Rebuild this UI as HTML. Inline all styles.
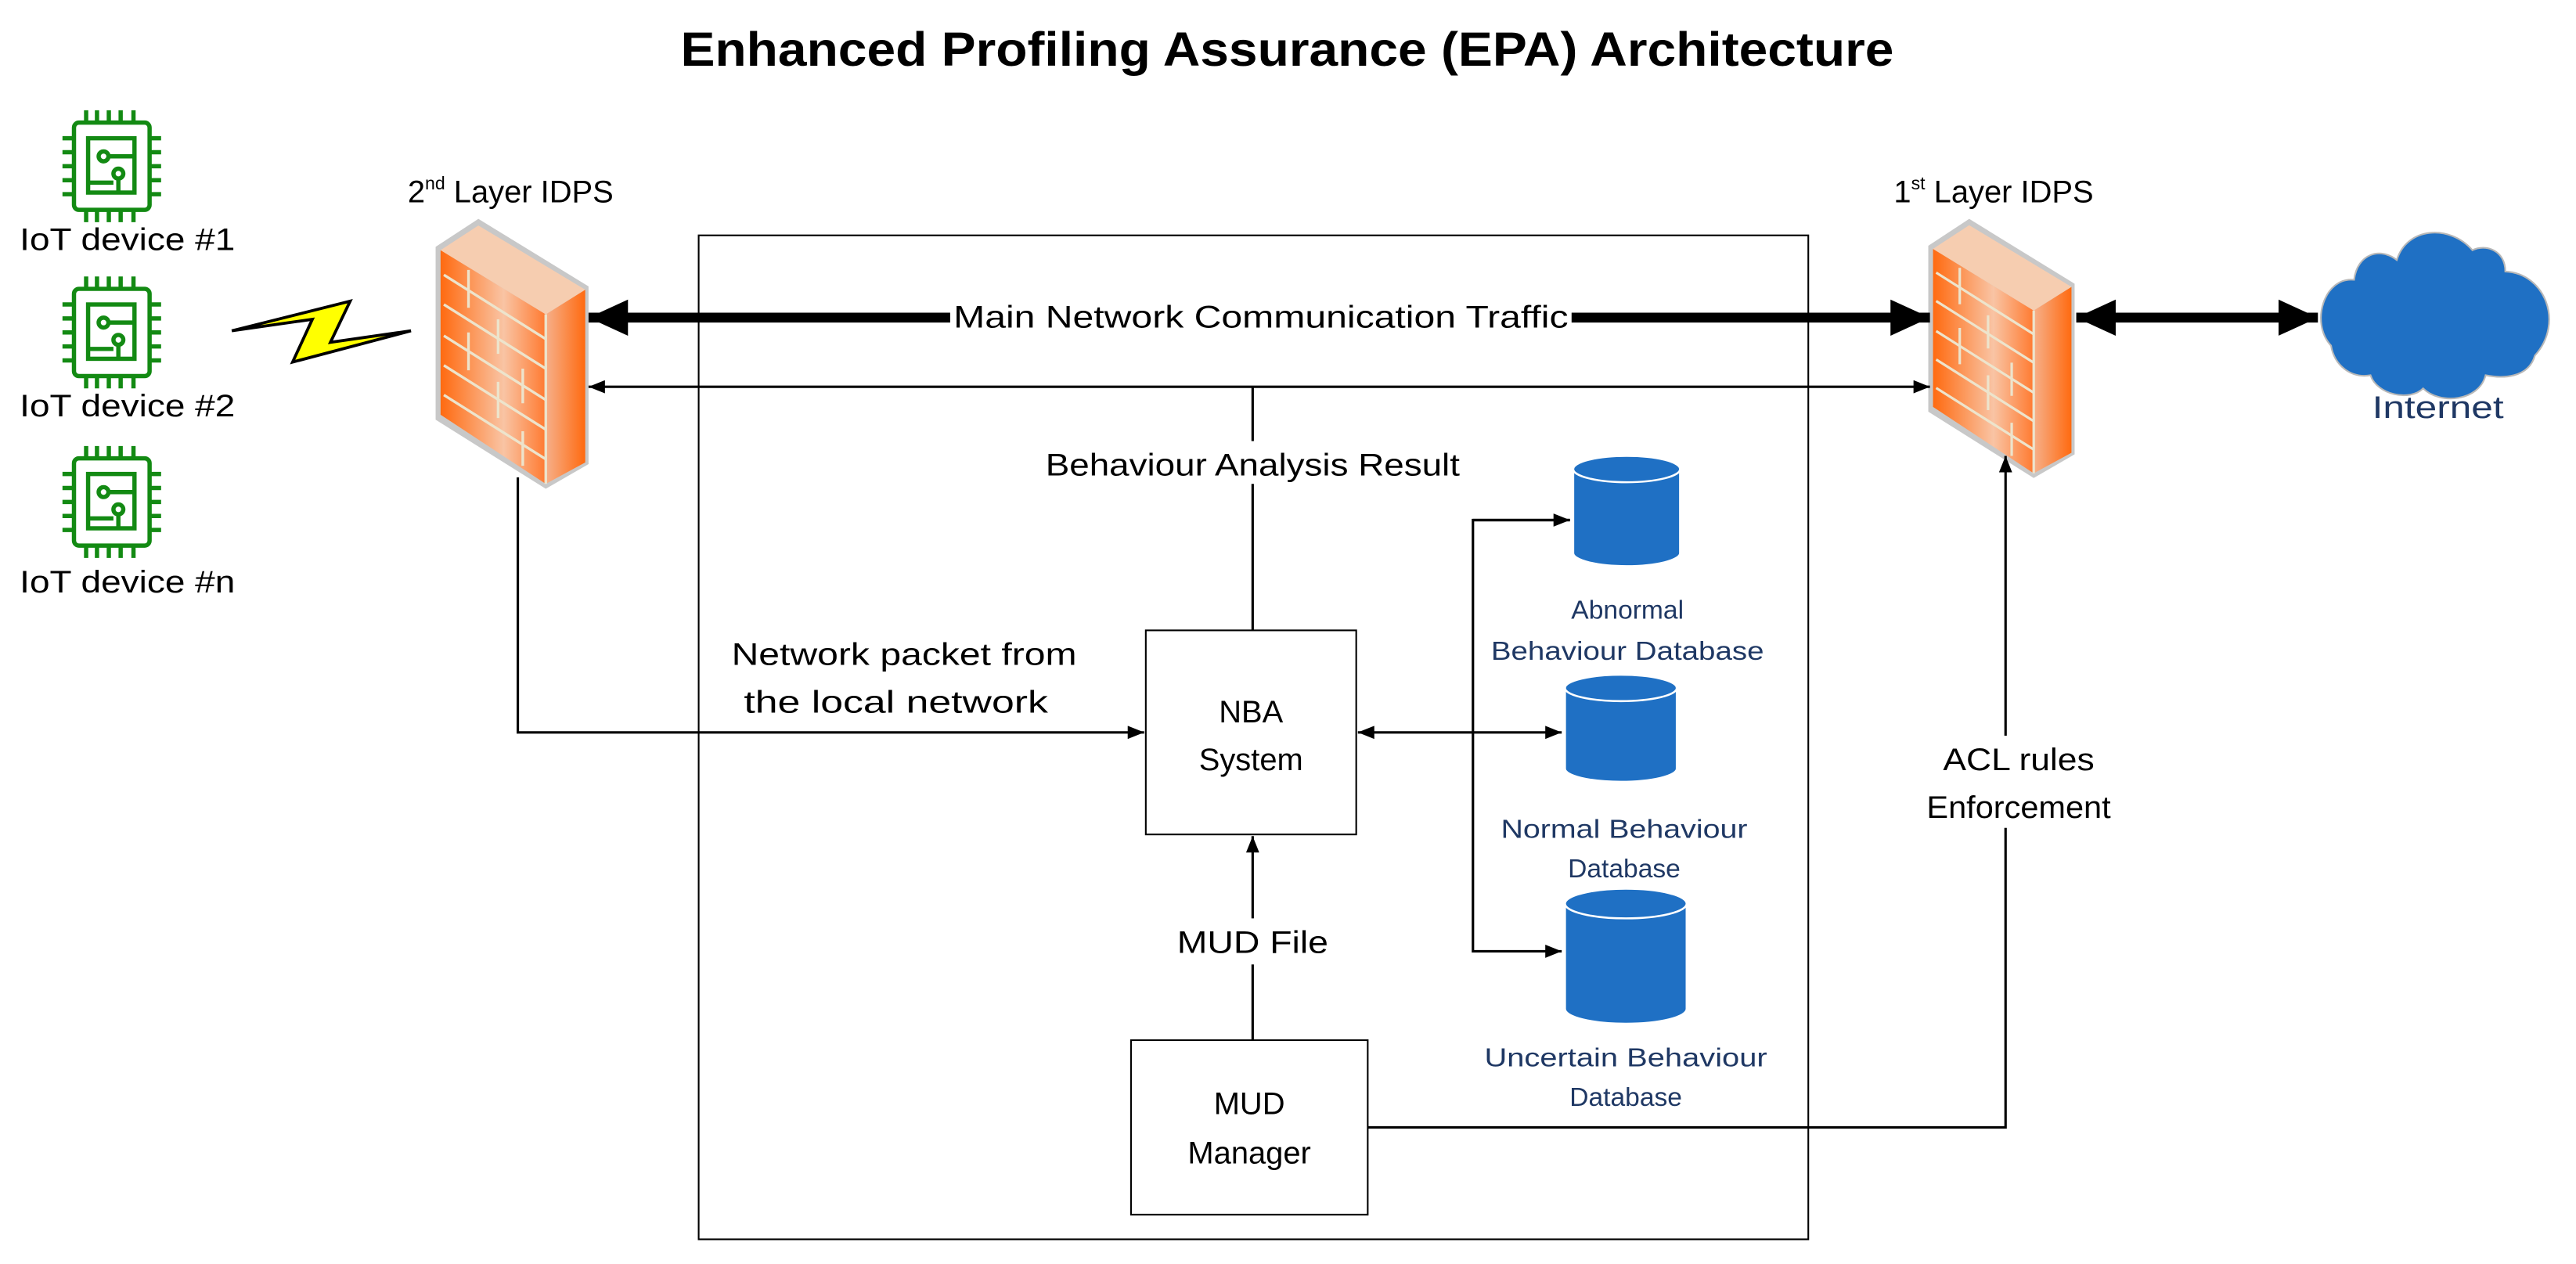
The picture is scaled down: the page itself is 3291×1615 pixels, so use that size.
<!DOCTYPE html>
<html><head><meta charset="utf-8"><style>
html,body{margin:0;padding:0;background:#fff;}
svg{display:block;}
text{font-family:"Liberation Sans",sans-serif;}
</style></head><body>
<svg width="3291" height="1615" viewBox="0 0 1567 768" preserveAspectRatio="none" xmlns="http://www.w3.org/2000/svg">
<defs>
<marker id="ah" markerWidth="10" markerHeight="8" refX="10" refY="4" orient="auto" markerUnits="userSpaceOnUse"><path d="M0,0 L10,4 L0,8 z" fill="#000"/></marker>
<marker id="ahs" markerWidth="10" markerHeight="8" refX="0" refY="4" orient="auto" markerUnits="userSpaceOnUse"><path d="M10,0 L0,4 L10,8 z" fill="#000"/></marker>
<marker id="bh" markerWidth="24" markerHeight="22" refX="24" refY="11" orient="auto" markerUnits="userSpaceOnUse"><path d="M0,0 L24,11 L0,22 z" fill="#000"/></marker>
<marker id="bhs" markerWidth="24" markerHeight="22" refX="0" refY="11" orient="auto" markerUnits="userSpaceOnUse"><path d="M24,0 L0,11 L24,22 z" fill="#000"/></marker>
<linearGradient id="fw" x1="0" y1="0" x2="1" y2="0">
<stop offset="0" stop-color="#ff6a10"/><stop offset="0.6" stop-color="#f9c4a4"/><stop offset="1" stop-color="#ff7a30"/></linearGradient>
<linearGradient id="fws" x1="0" y1="0" x2="1" y2="0">
<stop offset="0" stop-color="#f6b08a"/><stop offset="1" stop-color="#ff6a10"/></linearGradient>
<g id="chip" fill="none" stroke="#138a13" stroke-width="2.6">
<rect x="7" y="7.5" width="46" height="53" rx="3"/>
<rect x="15.6" y="17" width="28.2" height="33"/>
<path d="M14.4,0V7.5M21,0V7.5M28.2,0V7.5M35.4,0V7.5M43.2,0V7.5M14.4,60.5V68M21,60.5V68M28.2,60.5V68M35.4,60.5V68M43.2,60.5V68"/>
<path d="M0,17H7M0,25.5H7M0,34H7M0,42.5H7M0,51H7M53,17H60M53,25.5H60M53,34H60M53,42.5H60M53,51H60"/>
<circle cx="25" cy="28" r="3"/><circle cx="34" cy="38.5" r="3"/>
<path d="M28,28H43.8M15.6,44H31M34,41.5V50"/>
</g>
<g id="fwall">
<polygon points="265,150 291,133 358,174 358,282 332,297 265,255" fill="#c8c8c8"/>
<polygon points="268,152 332,191 332,294 268,252" fill="url(#fw)"/>
<polygon points="332,191 356,176 356,281 332,294" fill="url(#fws)"/>
<polygon points="268,152 291,137 356,176 332,191" fill="#f6cdb0"/>
<g stroke="#ede4cc" stroke-width="1.6">
<path d="M270,167 L332,206 M270,185 L332,224 M270,204 L332,243 M270,222 L332,261 M270,240 L332,279"/>
<path d="M285,164 V187 M303,194 V215 M285,202 V225 M318,224 V245 M303,232 V254 M318,262 V283 M332,191 V294"/>
</g>
</g>
</defs>

<text x="783" y="40" font-size="29" font-weight="bold" text-anchor="middle" textLength="738" lengthAdjust="spacingAndGlyphs">Enhanced Profiling Assurance (EPA) Architecture</text>

<use href="#chip" x="38" y="67"/>
<use href="#chip" x="38" y="168"/>
<use href="#chip" x="38" y="271"/>
<g font-size="19">
<text x="12" y="152" textLength="131" lengthAdjust="spacingAndGlyphs">IoT device #1</text>
<text x="12" y="253" textLength="131" lengthAdjust="spacingAndGlyphs">IoT device #2</text>
<text x="12" y="360" textLength="131" lengthAdjust="spacingAndGlyphs">IoT device #n</text>
</g>

<polygon points="141,201 213,183 201,208 250,201 178,220 190,194" fill="#ffff00" stroke="#000" stroke-width="1.8" stroke-linejoin="miter"/>

<rect x="425" y="143" width="675" height="610" fill="none" stroke="#000" stroke-width="1"/>

<use href="#fwall"/>
<text x="248" y="123" font-size="19">2<tspan font-size="11" dy="-8">nd</tspan><tspan dy="8"> Layer IDPS</tspan></text>

<g transform="translate(1173,133) scale(0.957,0.96) translate(-265,-133)"><use href="#fwall"/></g>
<text x="1152" y="123" font-size="19">1<tspan font-size="11" dy="-8">st</tspan><tspan dy="8"> Layer IDPS</tspan></text>

<line x1="358" y1="193" x2="1174" y2="193" stroke="#000" stroke-width="6" marker-start="url(#bhs)" marker-end="url(#bh)"/>
<rect x="578" y="180" width="378" height="26" fill="#fff"/>
<text x="767" y="199" font-size="19" text-anchor="middle" textLength="374" lengthAdjust="spacingAndGlyphs">Main Network Communication Traffic</text>

<line x1="358" y1="235" x2="1174" y2="235" stroke="#000" stroke-width="1.5" marker-start="url(#ahs)" marker-end="url(#ah)"/>

<line x1="1263" y1="193" x2="1410" y2="193" stroke="#000" stroke-width="6" marker-start="url(#bhs)" marker-end="url(#bh)"/>

<g fill="#1f70c4" stroke="#b8b8b8" stroke-width="1">
<path d="M1418,210 C1405,196 1414,168 1432,170 C1434,154 1448,150 1458,158 C1464,138 1490,136 1504,152 C1512,148 1524,152 1524,165 C1548,166 1560,196 1542,216 C1538,230 1522,230 1512,228 C1508,244 1484,246 1474,236 C1466,244 1446,240 1442,228 C1430,230 1420,222 1418,210 Z"/>
</g>
<text x="1483" y="254" font-size="19" fill="#1f3864" text-anchor="middle" textLength="80" lengthAdjust="spacingAndGlyphs">Internet</text>

<line x1="762" y1="235" x2="762" y2="383" stroke="#000" stroke-width="1.5"/>
<rect x="634" y="268" width="256" height="26" fill="#fff"/>
<text x="762" y="289" font-size="19" text-anchor="middle" textLength="252" lengthAdjust="spacingAndGlyphs">Behaviour Analysis Result</text>

<rect x="697" y="383" width="128" height="124" fill="#fff" stroke="#000" stroke-width="1"/>
<text x="761" y="439" font-size="19" text-anchor="middle">NBA</text>
<text x="761" y="468" font-size="19" text-anchor="middle">System</text>

<polyline points="315,290 315,445 696,445" fill="none" stroke="#000" stroke-width="1.5" marker-end="url(#ah)"/>
<text x="550" y="404" font-size="19" text-anchor="middle" textLength="210" lengthAdjust="spacingAndGlyphs">Network packet from</text>
<text x="545" y="433" font-size="19" text-anchor="middle" textLength="185" lengthAdjust="spacingAndGlyphs">the local network</text>

<line x1="826" y1="445" x2="896" y2="445" stroke="#000" stroke-width="1.5" marker-start="url(#ahs)"/>
<polyline points="955,316 896,316 896,578 950,578" fill="none" stroke="#000" stroke-width="1.5" marker-end="url(#ah)"/>
<line x1="896" y1="316" x2="955" y2="316" stroke="#000" stroke-width="1.5" marker-end="url(#ah)"/>
<line x1="896" y1="445" x2="950" y2="445" stroke="#000" stroke-width="1.5" marker-end="url(#ah)"/>

<g fill="#1f70c4" stroke="#fff" stroke-width="1.2">
<path d="M957,285 V336 A32.5,8 0 0 0 1022,336 V285 Z"/><ellipse cx="989.5" cy="285" rx="32.5" ry="8"/>
<path d="M952,418 V467 A34,8 0 0 0 1020,467 V418 Z"/><ellipse cx="986" cy="418" rx="34" ry="8"/>
<path d="M952,549 V613 A37,9 0 0 0 1026,613 V549 Z"/><ellipse cx="989" cy="549" rx="37" ry="9"/>
</g>
<g font-size="16" fill="#1f3864" text-anchor="middle">
<text x="990" y="376">Abnormal</text>
<text x="990" y="401" textLength="166" lengthAdjust="spacingAndGlyphs">Behaviour Database</text>
<text x="988" y="509" textLength="150" lengthAdjust="spacingAndGlyphs">Normal Behaviour</text>
<text x="988" y="533">Database</text>
<text x="989" y="648" textLength="172" lengthAdjust="spacingAndGlyphs">Uncertain Behaviour</text>
<text x="989" y="672">Database</text>
</g>

<line x1="762" y1="632" x2="762" y2="508" stroke="#000" stroke-width="1.5" marker-end="url(#ah)"/>
<rect x="712" y="558" width="100" height="28" fill="#fff"/>
<text x="762" y="579" font-size="19" text-anchor="middle" textLength="92" lengthAdjust="spacingAndGlyphs">MUD File</text>

<rect x="688" y="632" width="144" height="106" fill="#fff" stroke="#000" stroke-width="1"/>
<text x="760" y="677" font-size="19" text-anchor="middle">MUD</text>
<text x="760" y="707" font-size="19" text-anchor="middle">Manager</text>

<polyline points="832,685 1220,685 1220,277" fill="none" stroke="#000" stroke-width="1.5" marker-end="url(#ah)"/>
<rect x="1165" y="447" width="126" height="56" fill="#fff"/>
<text x="1228" y="468" font-size="19" text-anchor="middle" textLength="92" lengthAdjust="spacingAndGlyphs">ACL rules</text>
<text x="1228" y="497" font-size="19" text-anchor="middle" textLength="112" lengthAdjust="spacingAndGlyphs">Enforcement</text>
</svg>
</body></html>
